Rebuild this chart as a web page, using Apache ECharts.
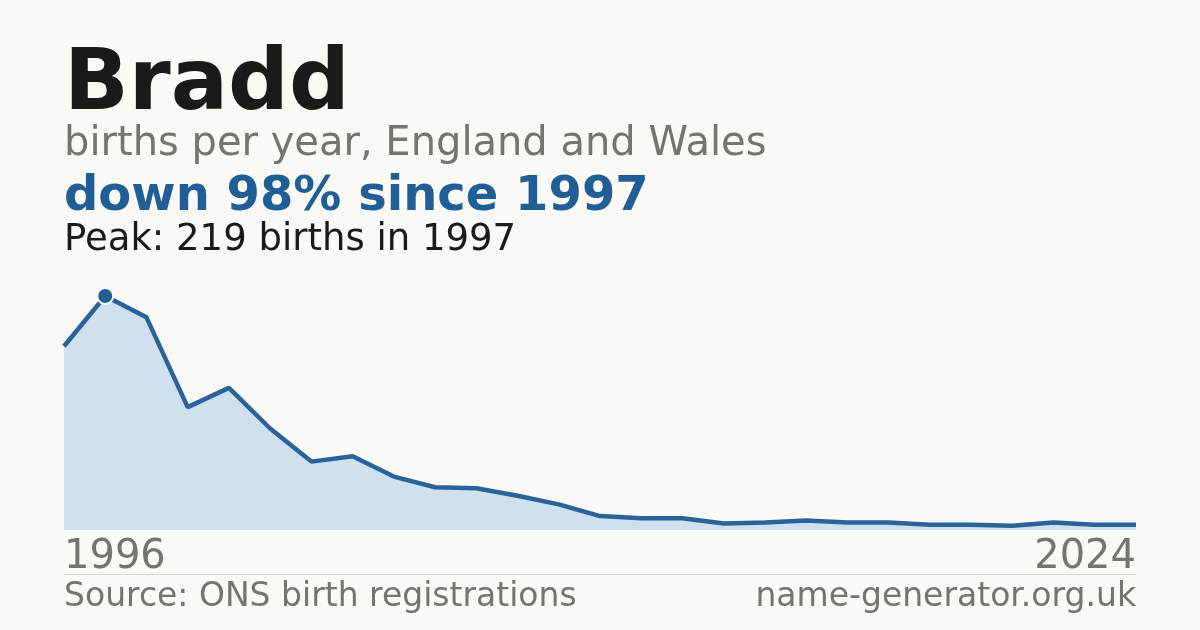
<!DOCTYPE html><html><head><meta charset="utf-8"><script src="https://cdn.jsdelivr.net/npm/echarts@6/dist/echarts.min.js"></script>
<style>html,body{margin:0;background:#faf9f5}#c{width:1200px;height:630px}</style></head><body><div id="c"></div><script>
const years=[1996,1997,1998,1999,2000,2001,2002,2003,2004,2005,2006,2007,2008,2009,2010,2011,2012,2013,2014,2015,2016,2017,2018,2019,2022,2023,2024];
const births=[172,219,199,115,133,95,64,69,50,40,39,32,24,13,11,11,6,7,9,7,7,5,5,4,7,5,5];
const tickLabels=['1996','2024'];
const c=echarts.init(document.getElementById('c'));
const F='DejaVu Sans';
c.setOption({backgroundColor:'#faf9f5',animation:false,
grid:{left:64,right:64,top:296,bottom:100},
xAxis:{type:'category',data:years.map(String),boundaryGap:false,axisLine:{show:false},axisTick:{show:false},
 axisLabel:{interval:0,fontFamily:F,fontSize:40,color:'#77736e',margin:8,
 formatter:v=>tickLabels.includes(v)?v:'',alignMinLabel:'left',alignMaxLabel:'right'}},
yAxis:{type:'value',min:0,max:219,show:false,splitLine:{show:false}},
series:[{type:'line',data:births,symbol:'none',smooth:false,
 lineStyle:{color:'#2a6399',width:4.5},areaStyle:{color:'#d0e0ef',opacity:1},
 markPoint:{symbol:'circle',symbolSize:16,itemStyle:{color:'#1f5f95',borderColor:'#fff',borderWidth:2},label:{show:false},
  data:[{coord:['1997',219]}]}}],
graphic:[
{type:'text',left:64,top:44,style:{text:'Bradd',font:'bold 85px "DejaVu Sans"',fill:'#1a1a1a'}},
{type:'text',left:64,top:125,style:{text:'births per year, England and Wales',font:'40px "DejaVu Sans"',fill:'#77736e'}},
{type:'text',left:64,top:174,style:{text:'down 98% since 1997',font:'bold 48px "DejaVu Sans"',fill:'#1f5f95'}},
{type:'text',left:64,top:222,style:{text:'Peak: 219 births in 1997',font:'37px "DejaVu Sans"',fill:'#1a1a1a'}},
{type:'rect',shape:{x:64,y:574,width:1072,height:1},style:{fill:'#dddad3'}},
{type:'text',left:64,top:581,style:{text:'Source: ONS birth registrations',font:'33px "DejaVu Sans"',fill:'#77736e'}},
{type:'text',right:64,top:581,style:{text:'name-generator.org.uk',font:'33px "DejaVu Sans"',fill:'#77736e'}}
]});
</script></body></html>
